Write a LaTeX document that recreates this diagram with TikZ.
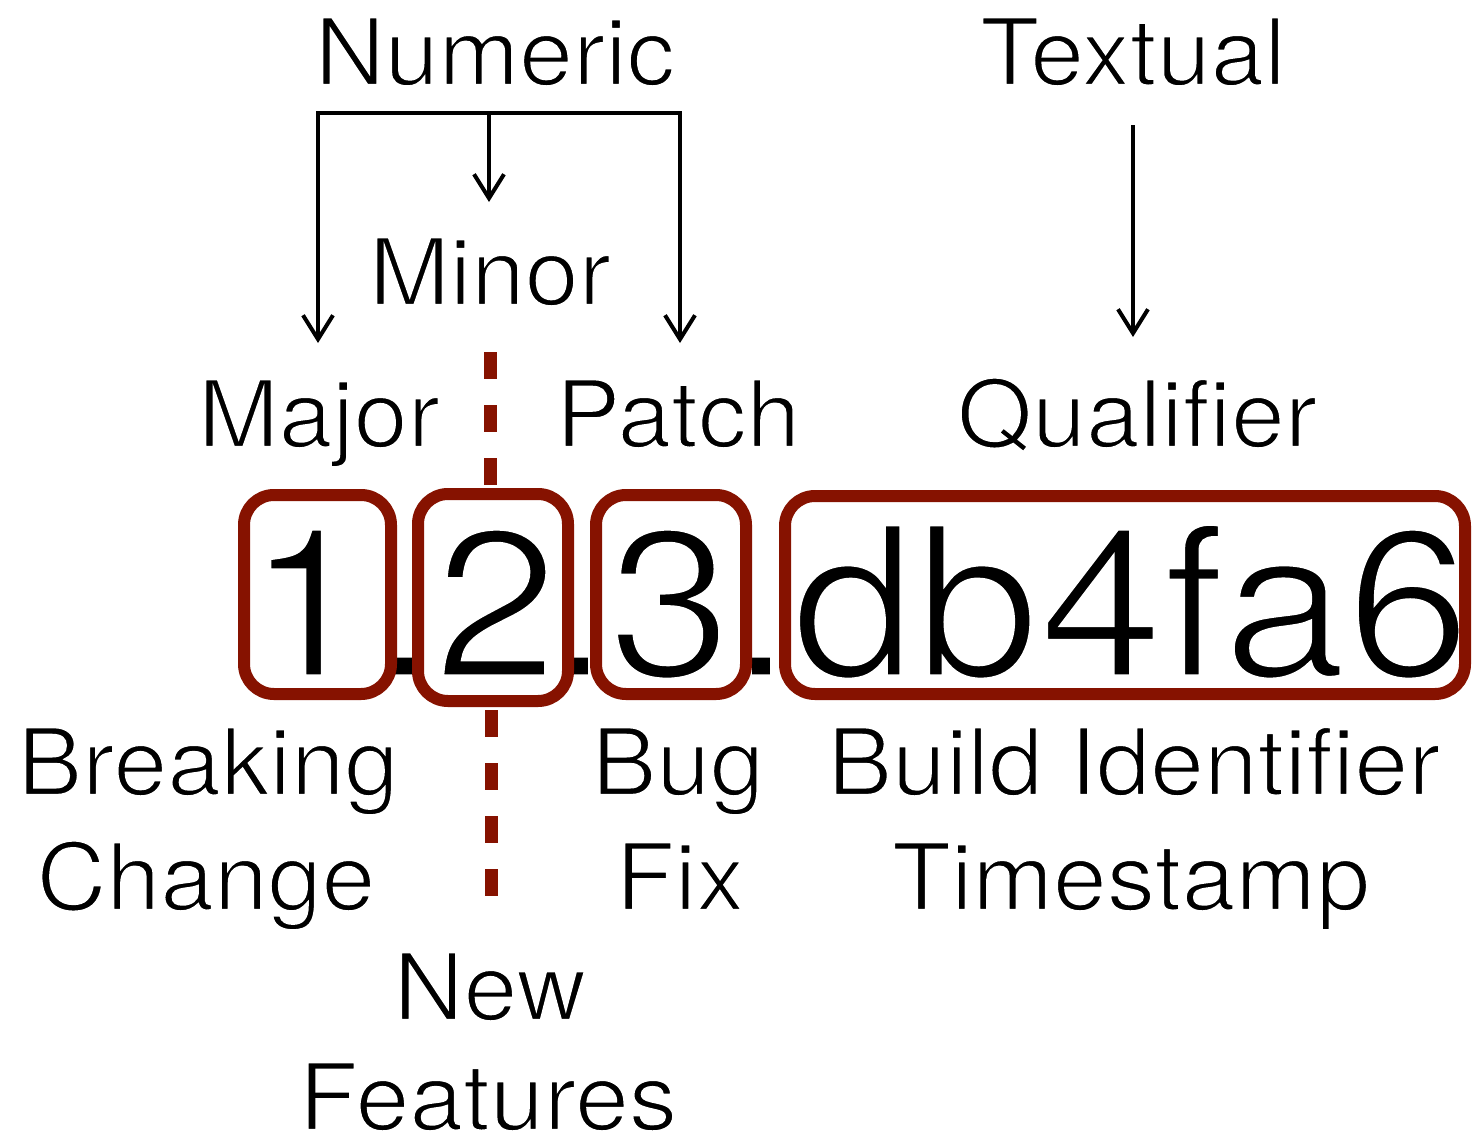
\documentclass[tikz,border=0pt]{standalone}
\usepackage{fontspec}
% Helvetica-like faces; the outline stroke is painted white to lighten the strokes
\setmainfont{TeX Gyre Heros}[FakeStretch=1.04, FakeBold=2.4]
\newfontfamily\digitfont{TeX Gyre Heros}[FakeStretch=1.06, FakeBold=2.4]
\newcommand\lighttext[1]{\special{pdf:literal direct 1 1 1 RG}#1\special{pdf:literal direct 0 0 0 RG}}
\usetikzlibrary{arrows.meta}
\definecolor{boxred}{RGB}{134,18,0}

\begin{document}
\begin{tikzpicture}[x=1pt,y=-1pt,
  lbl/.style={anchor=base, inner sep=0pt, font=\fontsize{93}{93}\selectfont},
  big/.style={anchor=base, inner sep=0pt, font=\digitfont\fontsize{210}{210}\selectfont},
  tipped/.style={line width=4pt, line join=miter},
  arr/.style={tipped, -{Straight Barb[length=24pt,width=30pt]}},
  sketchbox/.style={draw=boxred, line width=12pt, rounded corners=30pt,
    line join=round, inner sep=0pt},
  divider/.style={draw=boxred, line width=13pt, dash pattern=on 27pt off 26pt}
]
\useasboundingbox (0,0) rectangle (1473,1140);

% group headings
\node[lbl] (numeric) at (495,85) {\lighttext{Numeric}};
\node[lbl] (textual) at (1133,85) {\lighttext{Textual}};

% part names
\node[lbl] (minor) at (490,305) {\lighttext{Minor}};
\node[lbl] (major) at (319,447) {\lighttext{Major}};
\node[lbl] (patch) at (678,447) {\lighttext{Patch}};
\node[lbl] (qualifier) at (1137,447) {\lighttext{Qualifier}};

% meanings
\node[lbl] (breaking) at (208,795) {\lighttext{Breaking}};
\node[lbl] (change) at (206,910) {\lighttext{Change}};
\node[lbl] (bug) at (678,795) {\lighttext{Bug}};
\node[lbl] (fix) at (680,910) {\lighttext{Fix}};
\node[lbl] (build) at (1134,795) {\lighttext{Build Identifier}};
\node[lbl] (timestamp) at (1131,910) {\lighttext{Timestamp}};
\node[lbl] (new) at (490,1020) {\lighttext{New}};
\node[lbl] (features) at (488,1130) {\lighttext{Features}};

% bracket from the numeric heading to its three parts
\coordinate (barL) at (318,113);
\coordinate (barM) at (489,113);
\coordinate (barR) at (680,113);
\coordinate (majorTip) at (318,343);
\coordinate (minorTip) at (489,202);
\coordinate (patchTip) at (680,343);
\draw[tipped, {Straight Barb[length=24pt,width=30pt]}-{Straight Barb[length=24pt,width=30pt]}]
  (majorTip) -- (barL) -- (barR) -- (patchTip);
\draw[arr] (barM) -- (minorTip);

% textual arrow
\coordinate (textTop) at (1133,125);
\coordinate (qualTip) at (1133,337);
\draw[arr] (textTop) -- (qualTip);

% version string
\node[big] (p1) at (403,677) {\lighttext{.}};
\node[big] (p2) at (579,677) {\lighttext{.}};
\node[big] (p3) at (761,677) {\lighttext{.}};
\node[big] (d1) at (308,677) {\lighttext{1}};
\node[big] (d2) at (496,677) {\lighttext{2}};
\node[big] (d3) at (670,677) {\lighttext{3}};
\node[big] (dq) at (1131,677) {\lighttext{db4fa6}};

% minor divider
\coordinate (divA) at (490,352);
\coordinate (divB) at (490,486);
\coordinate (divC) at (491,710);
\coordinate (divD) at (491,897);
\draw[divider] (divA) -- (divB);
\draw[divider] (divC) -- (divD);

% frames round the parts
\node[sketchbox, minimum width=147pt, minimum height=199pt] (b1) at (317.5,594.5) {};
\node[sketchbox, minimum width=150pt, minimum height=207pt] (b2) at (493,597.5) {};
\node[sketchbox, minimum width=150pt, minimum height=199pt] (b3) at (671,594.5) {};
\node[sketchbox, minimum width=680pt, minimum height=198pt] (b4) at (1125,595) {};
\end{tikzpicture}
\end{document}
